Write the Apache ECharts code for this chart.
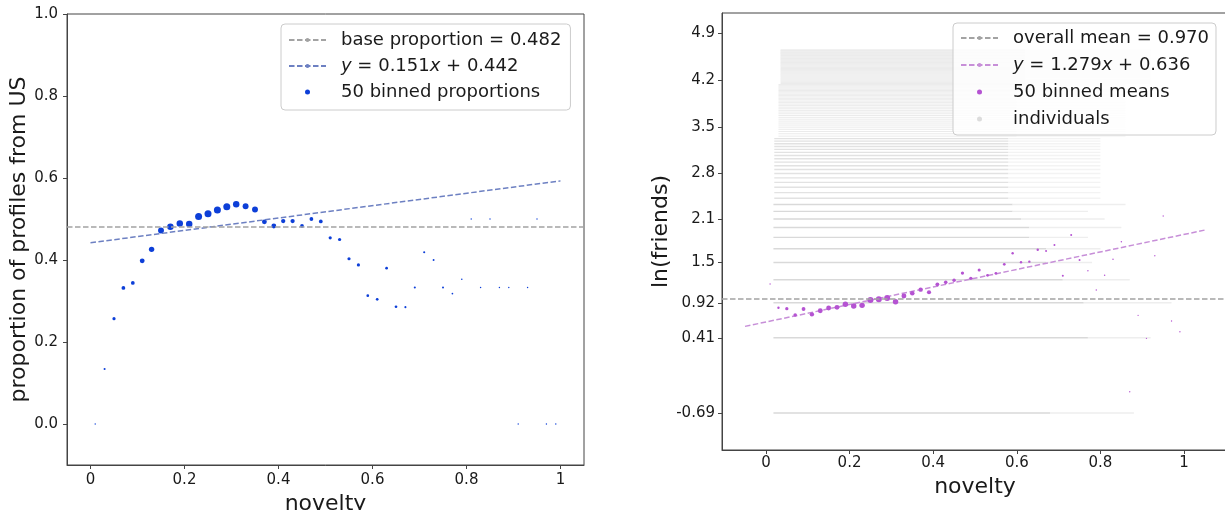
<!DOCTYPE html>
<html><head><meta charset="utf-8">
<script src="https://cdn.jsdelivr.net/npm/echarts@6/dist/echarts.min.js"></script>
<style>html,body{margin:0;padding:0;background:#fff}#c{width:1225px;height:510px}</style>
</head><body><div id="c"></div>
<script>
// ---------- data ----------
const binCenters = [0.01,0.03,0.05,0.07,0.09,0.11,0.13,0.15,0.17,0.19,0.21,0.23,0.25,0.27,0.29,0.31,0.33,0.35,0.37,0.39,0.41,0.43,0.45,0.47,0.49,0.51,0.53,0.55,0.57,0.59,0.61,0.63,0.65,0.67,0.69,0.71,0.73,0.75,0.77,0.79,0.81,0.83,0.85,0.87,0.89,0.91,0.93,0.95,0.97,0.99];
const usProportion = [0.0,0.134,0.257,0.332,0.344,0.398,0.426,0.472,0.481,0.489,0.488,0.506,0.513,0.522,0.530,0.536,0.531,0.523,0.493,0.483,0.495,0.495,0.483,0.500,0.494,0.454,0.450,0.403,0.388,0.313,0.304,0.380,0.286,0.285,0.333,0.419,0.400,0.333,0.318,0.353,0.500,0.333,0.500,0.333,0.333,0.0,0.333,0.5,0.0,0.0];
// relative bin counts (percent of largest bin)
const usBinCounts = [4,9,21,29,29,48,59,72,85,85,85,100,100,100,100,85,72,72,48,48,38,38,29,29,29,21,21,21,21,15,15,15,15,9,9,9,8,8,6,5,4,4,4,4,4,4,4,4,4,4];
const lnFriendsMean = [1.191,0.845,0.830,0.738,0.826,0.748,0.801,0.840,0.850,0.894,0.869,0.879,0.957,0.967,0.986,0.932,1.016,1.055,1.108,1.070,1.186,1.215,1.245,1.351,1.274,1.395,1.317,1.347,1.478,1.639,1.508,1.517,1.692,1.673,1.760,1.312,1.906,1.541,1.385,1.103,1.318,1.551,1.808,-0.382,0.733,0.398,1.604,2.184,0.650,0.494];
const friendsBinCounts = [5,16,30,36,40,53,67,67,67,83,83,83,100,100,100,83,67,58,53,48,40,36,34,30,30,26,21,21,21,16,16,16,16,11,11,11,11,11,6,6,6,6,6,5,5,5,5,5,5,5];
const baseProportion = 0.482;
const usFit = [0.151, 0.442];       // slope, intercept
const usFitRange = [0, 1];
const overallMean = 0.970;
const friendsFit = [1.279, 0.636];  // slope, intercept
const friendsFitRange = [-0.05, 1.05];
const xTicks = [0, 0.2, 0.4, 0.6, 0.8, 1];
const xTickLabels = ['0', '0.2', '0.4', '0.6', '0.8', '1'];
const leftYTicks = [0, 0.2, 0.4, 0.6, 0.8, 1.0];
const leftYTickLabels = ['0.0', '0.2', '0.4', '0.6', '0.8', '1.0'];
const rightYTickFriends = [0, 1, 2, 4, 8, 16, 32, 64, 128];
const rightYTickLabels = ['-0.69', '0.41', '0.92', '1.5', '2.1', '2.8', '3.5', '4.2', '4.9'];
// individuals: friend-count levels and the novelty extent where they appear
const indivLowFriends   = [0, 1, 2, 3, 4, 5, 6, 7, 8, 9, 10];
const indivLowStart     = [0.018,0.018,0.018,0.018,0.018,0.018,0.018,0.018,0.018,0.018,0.018];
const indivLowDenseEnd  = [0.68,0.77,0.76,0.71,0.67,0.67,0.63,0.63,0.61,0.59,0.59];
const indivLowSparseEnd = [0.88,0.92,0.97,0.87,0.78,0.80,0.77,0.85,0.81,0.77,0.86];
// [fromFriends, toFriends, start, denseEnd, sparseEnd]
const indivBands = [[11,27,0.02,0.58,0.80],[28,60,0.03,0.60,0.86],[61,100,0.035,0.62,0.92]];

// ---------- build ----------
const lnF = n => Math.log(n + 0.5);
const indivData = [];
indivLowFriends.forEach((n, i) => {
  indivData.push([indivLowStart[i], indivLowDenseEnd[i], lnF(n), 0, n]);
  indivData.push([indivLowDenseEnd[i], indivLowSparseEnd[i], lnF(n), 1, n]);
});
indivBands.forEach(b => {
  for (let n = b[0]; n <= b[1]; n++) {
    indivData.push([b[2], b[3], lnF(n), 0, n]);
    indivData.push([b[3], b[4], lnF(n), 1, n]);
  }
});
const rightYTicks = rightYTickFriends.map(lnF);
const usPts = binCenters.map((x, i) => [x, usProportion[i]]);
const frPts = binCenters.map((x, i) => [x, lnFriendsMean[i]]);
const fitLine = (f, r) => r.map(x => [x, f[0] * x + f[1]]);

const FONT = 'DejaVu Sans';
const TXT = '#1a1a1a';
const AX = '#444';
function lab(ticks, labels) {
  return v => { let bi = 0, bd = 1e9; ticks.forEach((t, i) => { const d = Math.abs(t - v); if (d < bd) { bd = d; bi = i; } }); return labels[bi]; };
}
const axLine = { show: true, onZero: false, lineStyle: { color: AX, width: 1 } };
function xAxis(gi, min, max, gap, margin) {
  return { gridIndex: gi, type: 'value', min, max, splitLine: { show: false }, axisLine: axLine,
    axisTick: { show: true, inside: false, customValues: xTicks, length: 4, lineStyle: { color: AX, width: 1 } },
    axisLabel: { customValues: xTicks, formatter: lab(xTicks, xTickLabels), margin, fontSize: 15, color: TXT, fontFamily: FONT },
    name: 'novelty', nameLocation: 'middle', nameGap: gap, nameTextStyle: { fontSize: 22, color: TXT, fontFamily: FONT } };
}
function yAxis(gi, min, max, ticks, labels, name, gap, margin) {
  return { gridIndex: gi, type: 'value', min, max, splitLine: { show: false }, axisLine: axLine,
    axisTick: { show: true, inside: false, customValues: ticks, length: 4, lineStyle: { color: AX, width: 1 } },
    axisLabel: { customValues: ticks, formatter: lab(ticks, labels), margin, fontSize: 15, color: TXT, fontFamily: FONT },
    name, nameLocation: 'middle', nameGap: gap, nameTextStyle: { fontSize: 22, color: TXT, fontFamily: FONT } };
}
const dash = [5.5, 2.5];
const rich = { i: { fontStyle: 'italic', fontSize: 18, fontFamily: FONT, color: TXT, lineHeight: 20 } };
function fmt(name) {
  return name.replace(/^y = ([0-9.]+)x \+ ([0-9.]+)$/, '{i|y} = $1{i|x} + $2');
}
function legend(left, top, names, pad, gap) {
  return { left, top, orient: 'vertical', data: names, itemWidth: 37, itemHeight: 5, itemGap: gap,
    padding: pad, backgroundColor: 'rgba(255,255,255,0.8)', borderColor: '#cccccc', borderWidth: 1, borderRadius: 4,
    formatter: fmt, selectedMode: false,
    textStyle: { fontSize: 18, fontFamily: FONT, color: TXT, lineHeight: 20, padding: [0, 0, 0, 10], rich } };
}

const chart = echarts.init(document.getElementById('c'), null, { renderer: 'canvas' });
chart.setOption({
  animation: false,
  backgroundColor: '#fff',
  grid: [
    { left: 67, top: 14, width: 517, height: 451, show: true, borderColor: AX, borderWidth: 1, backgroundColor: 'transparent', containLabel: false, outerBoundsMode: 'none' },
    { left: 722, top: 13, width: 506, height: 437, show: true, borderColor: AX, borderWidth: 1, backgroundColor: 'transparent', containLabel: false, outerBoundsMode: 'none' }
  ],
  xAxis: [xAxis(0, -0.05, 1.05, 22, 8), xAxis(1, -0.105, 1.105, 23, 6)],
  yAxis: [
    yAxis(0, -0.1, 1.0, leftYTicks, leftYTickLabels, 'proportion of profiles from US', 34, 9),
    yAxis(1, -1.233, 5.148, rightYTicks, rightYTickLabels, 'ln(friends)', 50, 7)
  ],
  legend: [
    legend(281, 24, [
      { name: 'base proportion = 0.482' },
      { name: 'y = 0.151x + 0.442' },
      { name: '50 binned proportions', icon: 'circle' }
    ], [6, 9, 8, 7], 6),
    legend(953, 23, [
      { name: 'overall mean = 0.970' },
      { name: 'y = 1.279x + 0.636' },
      { name: '50 binned means', icon: 'circle' },
      { name: 'individuals', icon: 'circle', itemStyle: { color: '#dcdcdc' } }
    ], [5, 7, 6, 7], 7)
  ],
  series: [
    { name: 'base proportion = 0.482', type: 'line', xAxisIndex: 0, yAxisIndex: 0, data: [], symbol: 'none',
      lineStyle: { color: '#a3a3a3', width: 1.5, type: dash }, itemStyle: { color: '#a3a3a3' },
      markLine: { silent: true, symbol: 'none', label: { show: false }, data: [{ yAxis: baseProportion }],
        lineStyle: { color: '#a3a3a3', width: 1.5, type: dash } } },
    { name: 'y = 0.151x + 0.442', type: 'line', xAxisIndex: 0, yAxisIndex: 0, data: fitLine(usFit, usFitRange), symbol: 'none',
      lineStyle: { color: '#6d80c2', width: 1.5, type: dash }, itemStyle: { color: '#6d80c2' } },
    { name: '50 binned proportions', type: 'scatter', xAxisIndex: 0, yAxisIndex: 0, data: usPts,
      symbolSize: (v, p) => 7 * Math.sqrt(usBinCounts[p.dataIndex] / 100), itemStyle: { color: '#0d3fd8', opacity: 1 } },
    { name: 'individuals', type: 'custom', xAxisIndex: 1, yAxisIndex: 1, data: indivData, clip: true,
      encode: { x: [0, 1], y: 2 }, itemStyle: { color: '#dcdcdc' }, silent: true, z: 1,
      renderItem: (params, api) => {
        const a = api.coord([api.value(0), api.value(2)]);
        const b = api.coord([api.value(1), api.value(2)]);
        const sparse = api.value(3) === 1;
        const n = api.value(4);
        let stroke = n <= 10 ? '#d9d9d9' : (n <= 27 ? '#e2e2e2' : '#ebebeb');
        if (sparse) stroke = n <= 10 ? '#eeeeee' : '#f3f3f3';
        return { type: 'line', shape: { x1: a[0], y1: a[1], x2: b[0], y2: b[1] },
          style: { stroke, lineWidth: n <= 27 ? 1.4 : 1.0 } };
      } },
    { name: 'overall mean = 0.970', type: 'line', xAxisIndex: 1, yAxisIndex: 1, data: [], symbol: 'none', z: 3,
      lineStyle: { color: '#a3a3a3', width: 1.5, type: dash }, itemStyle: { color: '#a3a3a3' },
      markLine: { silent: true, symbol: 'none', label: { show: false }, data: [{ yAxis: overallMean }],
        lineStyle: { color: '#a3a3a3', width: 1.5, type: dash } } },
    { name: 'y = 1.279x + 0.636', type: 'line', xAxisIndex: 1, yAxisIndex: 1, data: fitLine(friendsFit, friendsFitRange), symbol: 'none', z: 3,
      lineStyle: { color: '#c78fd8', width: 1.5, type: dash }, itemStyle: { color: '#c78fd8' } },
    { name: '50 binned means', type: 'scatter', xAxisIndex: 1, yAxisIndex: 1, data: frPts, z: 4,
      symbolSize: (v, p) => 6 * Math.sqrt(friendsBinCounts[p.dataIndex] / 100), itemStyle: { color: '#b553d2', opacity: 1 } }
  ]
});
</script></body></html>
